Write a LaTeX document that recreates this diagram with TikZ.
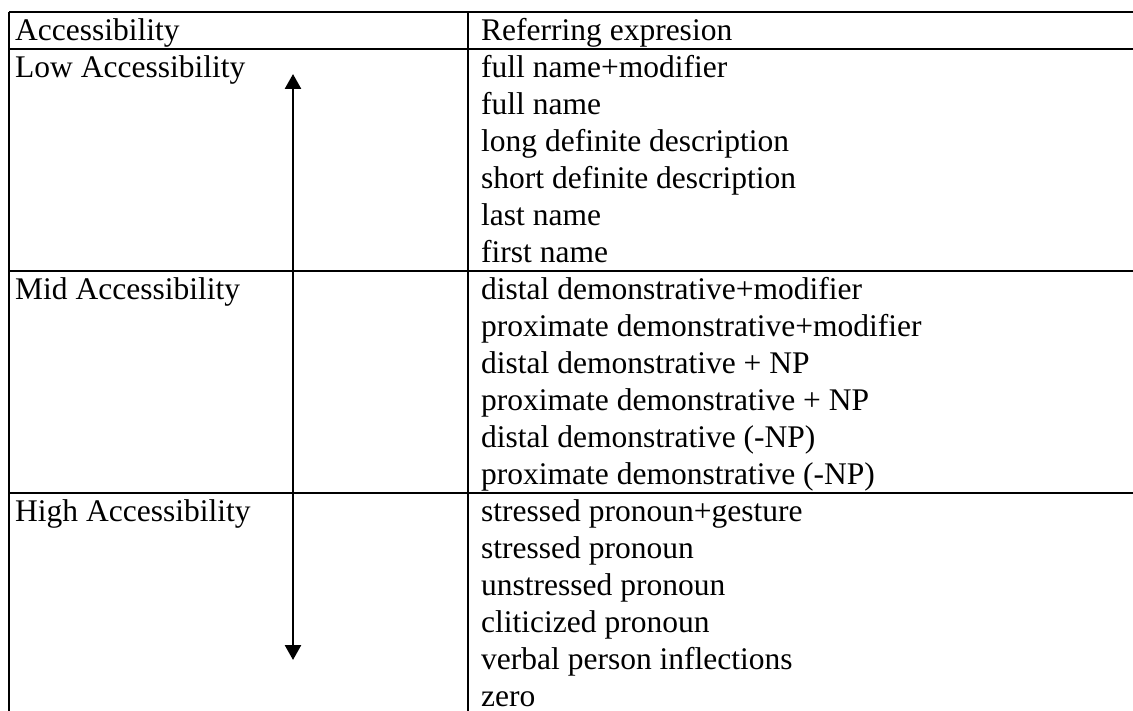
\documentclass[tikz,border=0pt]{standalone}
\usepackage{fontspec}
\setmainfont{Liberation Serif}
\usetikzlibrary{arrows.meta}

\begin{document}
\begin{tikzpicture}[x=1pt, y=-1pt,
    rule/.style={line width=2pt},
    cell/.style={anchor=base west, inner sep=0pt, font=\fontsize{31.5}{37}\selectfont},
    scalearrow/.style={line width=2.6pt, {Triangle[length=15pt, width=16pt]}-{Triangle[length=15pt, width=16pt]}}]
    \useasboundingbox (0,0) rectangle (1133,711);
    % Grid of the table
    \def\pitch{37.0}
    \def\ytop{12}
    \draw[rule] (9,\ytop) -- (1133,\ytop);
    \foreach \k in {1,7,13}
        \draw[rule] (9,{\ytop+\pitch*\k}) -- (1133,{\ytop+\pitch*\k});
    \draw[rule] (9,\ytop) -- (9,711);
    \draw[rule] (468,\ytop) -- (468,711);
    % Header
    \node[cell] (acc) at (15,{\ytop+28.5}) {Accessibility};
    \node[cell] (refexp) at (481,{\ytop+28.5}) {Referring expresion};
    % Accessibility levels
    \node[cell] (low) at (15,{\ytop+\pitch+28.5}) {Low Accessibility};
    \node[cell] (mid) at (15,{\ytop+\pitch*7+28.5}) {Mid Accessibility};
    \node[cell] (high) at (15,{\ytop+\pitch*13+28.5}) {High Accessibility};
    % Referring expressions
    \foreach \txt [count=\i] in {full name+modifier, full name, long definite description,
        short definite description, last name, first name,
        distal demonstrative+modifier, proximate demonstrative+modifier,
        distal demonstrative + NP, proximate demonstrative + NP,
        distal demonstrative (-NP), proximate demonstrative (-NP),
        stressed pronoun+gesture, stressed pronoun, unstressed pronoun,
        cliticized pronoun, verbal person inflections, zero}
        \node[cell] (re\i) at (481,{\ytop+\pitch*\i+28.5}) {\txt};
    % Scale arrow
    \coordinate (arrtop) at (293,74);
    \coordinate (arrbot) at (293,660);
    \draw[scalearrow] (arrtop) -- (arrbot);
\end{tikzpicture}
\end{document}
